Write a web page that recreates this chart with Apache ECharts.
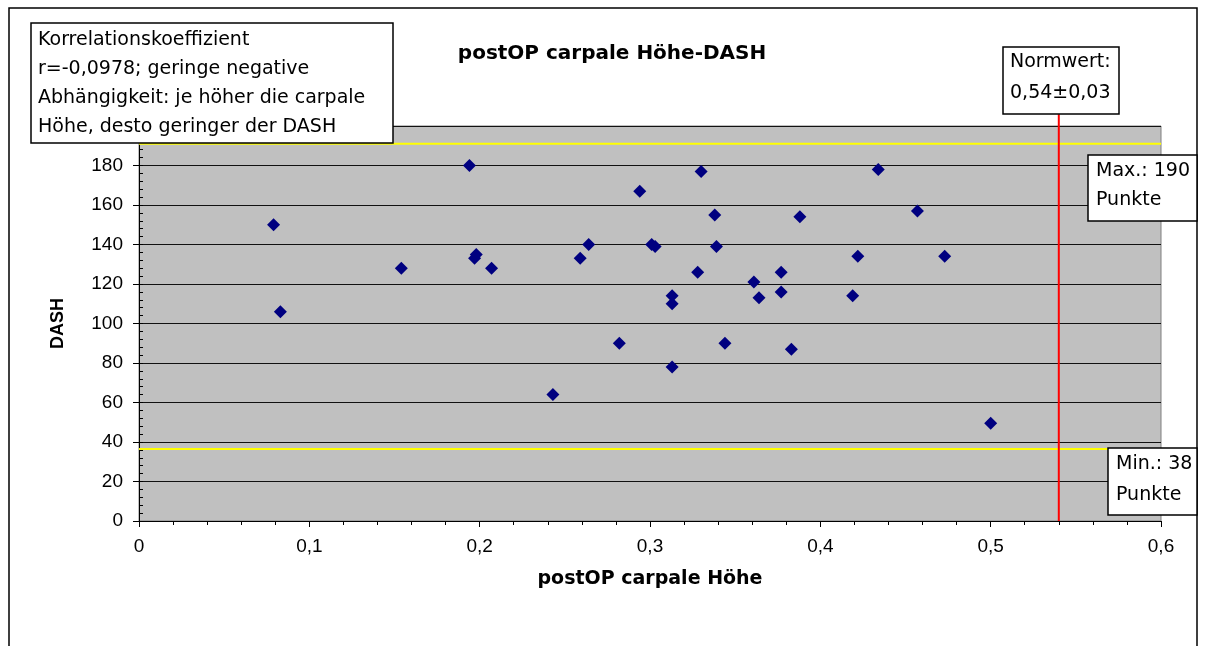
<!DOCTYPE html>
<html>
<head>
<meta charset="utf-8">
<script src="https://cdn.jsdelivr.net/npm/echarts@6/dist/echarts.min.js"></script>
<style>
html,body{margin:0;padding:0;background:#fff;}
#chart{width:1206px;height:646px;}
</style>
</head>
<body>
<div id="chart"></div>
<script>
// ---- data ----
const hoehe = [0.079,0.083,0.154,0.194,0.197,0.198,0.207,0.243,0.259,0.264,0.282,0.294,0.301,0.303,0.313,0.313,0.313,0.328,0.330,0.338,0.339,0.344,0.361,0.364,0.377,0.377,0.383,0.388,0.419,0.422,0.434,0.457,0.473,0.500];
const dash  = [150,106,128,180,133,135,128,64,133,140,90,167,140,139,114,110,78,126,177,155,139,90,121,113,126,116,87,154,114,134,178,157,134,49.5];
const xTicks = [0,0.1,0.2,0.3,0.4,0.5,0.6];
const yTicks = [0,20,40,60,80,100,120,140,160,180,200];
const maxLine = 191;    // yellow line "Max.: 190 Punkte"
const minLine = 36.5;   // yellow line "Min.: 38 Punkte"
const normwert = 0.54;  // red line
const titleText = 'postOP carpale Höhe-DASH';
const xName = 'postOP carpale Höhe';
const yName = 'DASH';
const infoLines = ['Korrelationskoeffizient','r=-0,0978; geringe negative','Abhängigkeit: je höher die carpale','Höhe, desto geringer der DASH'];
const normLines = ['Normwert:','0,54±0,03'];
const maxLines = ['Max.: 190','Punkte'];
const minLines = ['Min.: 38','Punkte'];

const points = hoehe.map((x,i)=>[x,dash[i]]);
const xMin = xTicks[0], xMax = xTicks[xTicks.length-1];
const yMin = yTicks[0], yMax = yTicks[yTicks.length-1];

const boxFont = 'DejaVu Sans';
function textBox(x,y,w,h,lines,tx,centers){
  const els = [{type:'rect',shape:{x:x,y:y,width:w,height:h},style:{fill:'#fff',stroke:'#000',lineWidth:1.5},z:100}];
  lines.forEach((t,i)=>{
    els.push({type:'text',x:tx,y:centers[i],z:101,style:{text:t,fill:'#000',fontSize:19,fontFamily:boxFont,verticalAlign:'middle',align:'left'}});
  });
  return els;
}

const chart = echarts.init(document.getElementById('chart'),null,{renderer:'canvas'});
const fmt = v => String(+Number(v).toFixed(1)).replace('.',',');

chart.setOption({
  animation:false,
  backgroundColor:'#fff',
  title:{text:titleText,left:607,top:39,textAlign:'center',
    textStyle:{fontFamily:'DejaVu Sans',fontWeight:'bold',fontSize:20,color:'#000'}},
  grid:{left:139,right:45,top:126,bottom:125,show:true,backgroundColor:'#c0c0c0',borderColor:'#808080',borderWidth:1},
  xAxis:{type:'value',min:xMin,max:xMax,interval:0.1,
    name:xName,nameLocation:'middle',nameGap:49,
    nameTextStyle:{fontFamily:'DejaVu Sans',fontWeight:'bold',fontSize:19,color:'#000'},
    axisLine:{show:true,onZero:false,lineStyle:{color:'#000',width:1}},
    axisTick:{show:true,inside:false,length:6,lineStyle:{color:'#000'}},
    minorTick:{show:true,splitNumber:5,length:4,lineStyle:{color:'#000'}},
    splitLine:{show:false},
    axisLabel:{formatter:fmt,margin:16,fontFamily:'Liberation Sans',fontSize:19,color:'#000'}},
  yAxis:[{type:'value',min:yMin,max:yMax,interval:20,
    name:yName,nameLocation:'middle',nameGap:72,nameRotate:90,
    nameTextStyle:{fontFamily:'Liberation Sans',fontWeight:'bold',fontSize:18,color:'#000'},
    axisLine:{show:true,onZero:false,lineStyle:{color:'#000',width:1}},
    axisTick:{show:true,inside:false,length:6,lineStyle:{color:'#000'}},
    splitLine:{show:true,lineStyle:{color:'#111',width:1}},
    axisLabel:{margin:16,fontFamily:'Liberation Sans',fontSize:19,color:'#000'}},
   {type:'value',min:yMin,max:yMax,interval:4,position:'left',
    axisLine:{show:false},axisLabel:{show:false},splitLine:{show:false},
    axisTick:{show:true,inside:true,length:4,lineStyle:{color:'#000'}}}],
  series:[
    {type:'line',data:[[xMin,maxLine],[xMax,maxLine]],symbol:'none',silent:true,z:3,
      lineStyle:{color:'#ffff00',width:2}},
    {type:'line',data:[[xMin,minLine],[xMax,minLine]],symbol:'none',silent:true,z:3,
      lineStyle:{color:'#ffff00',width:2}},
    {type:'scatter',data:points,symbol:'diamond',symbolSize:13,z:5,
      itemStyle:{color:'#000080',opacity:1}},
    {type:'line',data:[[normwert,yMin],[normwert,yMax+6]],symbol:'none',silent:true,clip:false,z:6,
      lineStyle:{color:'#ff0000',width:2}}
  ],
  graphic:{elements:[
    {type:'rect',shape:{x:9,y:8,width:1188,height:720},style:{fill:'none',stroke:'#000',lineWidth:1.5},z:90,silent:true},
    ...textBox(31,23,362,120,infoLines,38,[40,69,98,127]),
    ...textBox(1003,47,116,67,normLines,1010,[62,93]),
    ...textBox(1088,155,109,66,maxLines,1096,[171,200]),
    ...textBox(1108,448,89,67,minLines,1116,[464,495])
  ]}
});
</script>
</body>
</html>
